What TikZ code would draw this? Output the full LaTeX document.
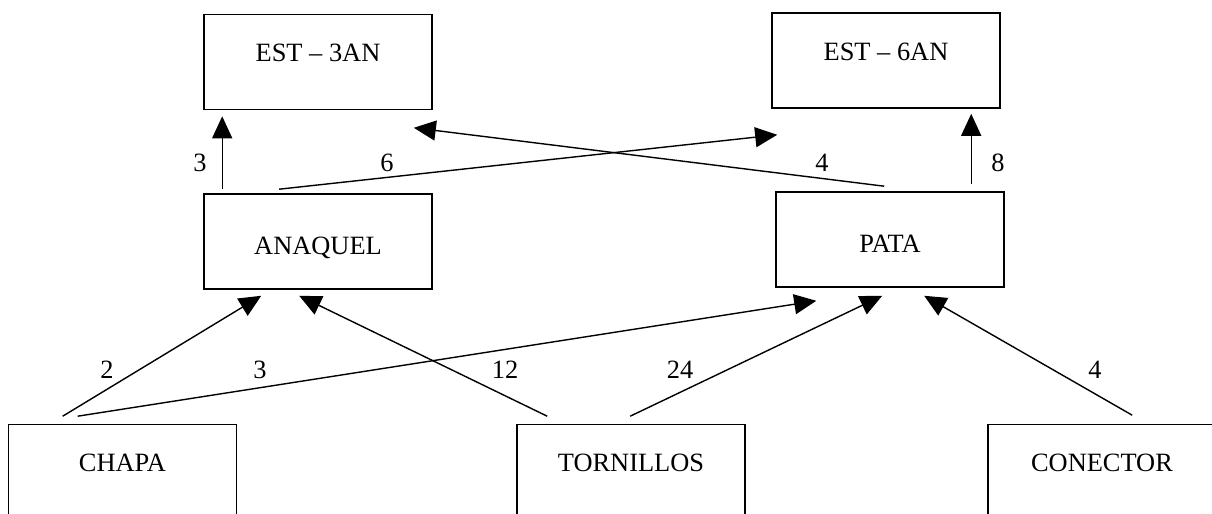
\documentclass[tikz,border=0pt]{standalone}
\usepackage{fontspec}
\setmainfont{Liberation Serif}
\usetikzlibrary{arrows.meta,calc}

\begin{document}
\begin{tikzpicture}[x = 0.5pt, y = 0.5pt, line width = 0.8pt,
                    box/.style = {rectangle, draw, minimum width = 114pt, minimum height = 47.5pt,
                                  text height = 0pt, text depth = 0pt, font = \fontsize{13.2}{15}\selectfont},
                    lowtext/.style = {text height = 13.5pt},
                    flow/.style = {-{Triangle[length = 11pt, width = 10pt]}, line width = 0.7pt},
                    qty/.style = {font = \fontsize{13.2}{15}\selectfont}]

\clip (0,0) rectangle (1212,514);

% products
\node [box] (est3) at (318,452) {EST – 3AN};
\node [box] (est6) at (886,453.5) {EST – 6AN};

% subassemblies
\node [box, lowtext] (anaquel) at (318,272.5) {ANAQUEL};
\node [box, lowtext] (pata) at (890,274.5) {PATA};

% parts
\node [box] (chapa) at (122.5,42) {CHAPA};
\node [box] (tornillos) at (631,42) {TORNILLOS};
\node [box] (conector) at (1102,42) {CONECTOR};

% upper arrows
\draw[flow] ($(anaquel.north west)+(19,4)$) -- ($(est3.south west)+(19,-6)$);
\draw[flow] ($(anaquel.north west)+(76,4)$) -- ($(est6.south west)+(6,-26)$);
\draw[flow] ($(pata.north west)+(109,5)$) -- ($(est3.south east)+(-19,-17.5)$);
\draw[flow] ($(pata.north west)+(196,7)$) -- ($(est6.south west)+(200,-5)$);

% lower arrows
\draw[flow] ($(chapa.north west)+(55,7.5)$) -- ($(anaquel.south west)+(58,-6)$);
\draw[flow] ($(chapa.north west)+(70,7.5)$) -- ($(pata.south west)+(41,-13)$);
\draw[flow] ($(tornillos.north west)+(31,7.5)$) -- ($(anaquel.south west)+(96,-6)$);
\draw[flow] ($(tornillos.north west)+(114,7.5)$) -- ($(pata.south west)+(107,-8)$);
\draw[flow] ($(conector.north west)+(145,8.5)$) -- ($(pata.south west)+(149,-8)$);

% quantities
\node [qty] (q1) at (200,351) {3};
\node [qty] (q2) at (387,351) {6};
\node [qty] (q3) at (822,351) {4};
\node [qty] (q4) at (998,351) {8};
\node [qty] (q5) at (107,144) {2};
\node [qty] (q6) at (260,144) {3};
\node [qty] (q7) at (505,144) {12};
\node [qty] (q8) at (680,144) {24};
\node [qty] (q9) at (1095,144) {4};
\end{tikzpicture}
\end{document}
